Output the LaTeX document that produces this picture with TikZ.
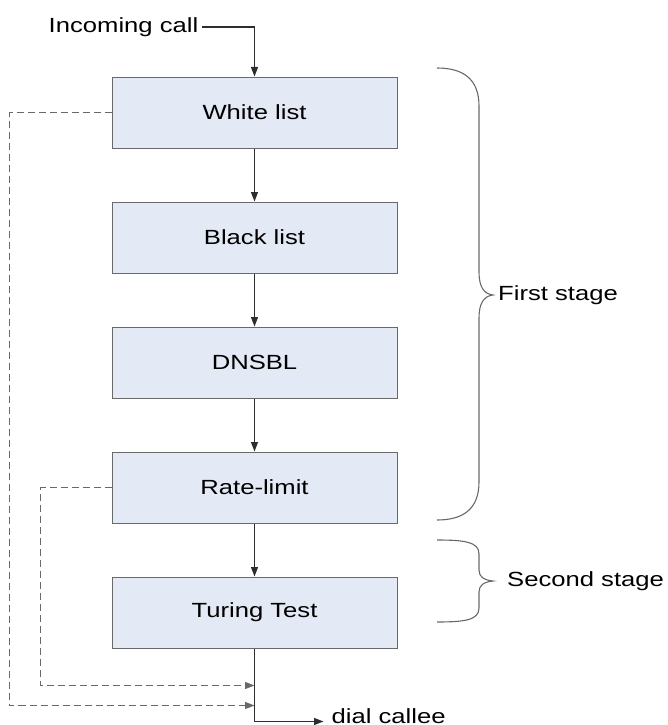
\documentclass[tikz,border=0pt]{standalone}
\usepackage{fontspec}
\setmainfont{Liberation Sans}[FakeStretch=1.25]
\usetikzlibrary{positioning}
\usetikzlibrary{calc}
\usetikzlibrary{arrows.meta}

\definecolor{boxfill}{RGB}{227,233,245}
\definecolor{boxline}{RGB}{105,105,105}
\definecolor{flowline}{RGB}{45,45,45}

\begin{document}
\begin{tikzpicture}
	[x=1pt, y=-1pt,
	every node/.append style={font=\fontsize{20.5}{24}\selectfont},
	node distance=53pt,
	filter/.style={draw=boxline, fill=boxfill, line width=1pt, minimum width=285pt, minimum height=71pt},
	flow/.style={->, draw=flowline, line width=1.2pt},
	skip/.style={->, dash pattern=on 7pt off 4pt, draw=boxline, line width=1.1pt},
	brace/.style={draw=boxline, line width=1.1pt},
	>={Triangle[length=9.5pt,width=7pt]}]

	\useasboundingbox (0,0) rectangle (668,725);

	% filter chain
	\node [filter] (white) at (254.5,112.5) {White list};
	\node [filter, below=of white] (black) {Black list};
	\node [filter, below=of black] (dnsbl) {DNSBL};
	\node [filter, below=of dnsbl] (rate) {Rate-limit};
	\node [filter, below=of rate] (turing) {Turing Test};

	\node (incoming) at (123.5,27) {Incoming call};

	% join points under the last box
	\coordinate (joinA) at ($(turing.south)+(0,37)$);
	\coordinate (joinB) at ($(turing.south)+(0,57)$);
	\coordinate (exit)  at ($(turing.south)+(0,73)$);
	\node [anchor=base west, inner sep=0pt] (callee) at ($(exit)+(77,2)$) {dial callee};
	\coordinate (calleeIn) at ($(exit -| callee.west)+(-8,0)$);

	% straight arrows
	\draw [flow] (incoming.east) -| (white.north);
	\draw [flow] (white) -- (black);
	\draw [flow] (black) -- (dnsbl);
	\draw [flow] (dnsbl) -- (rate);
	\draw [flow] (rate) -- (turing);
	\draw [flow] (turing) -- (exit) -- (calleeIn);

	% dashed bypasses
	\draw [skip] (white.west) -- ++(-102,0) |- (joinB);
	\draw [skip] (rate.west) -- ++(-71,0) |- (joinA);

	% braces
	\draw [brace] (437,68) .. controls (462,68) and (479,78) .. (479,106) -- (479,272)
		.. controls (479,287) and (484,294) .. (493,295)
		.. controls (484,296) and (479,303) .. (479,318) -- (479,482)
		.. controls (479,510) and (462,520) .. (437,520);
	\draw [brace] (437,540) .. controls (465,540) and (479,542) .. (479,554) -- (479,570)
		.. controls (479,577) and (484,580) .. (493,581)
		.. controls (484,582) and (479,585) .. (479,592) -- (479,608)
		.. controls (479,620) and (465,622) .. (437,622);

	\node [anchor=west, inner sep=2pt] (first) at (496,295) {First stage};
	\node [anchor=west, inner sep=2pt] (second) at (505,581) {Second stage};
\end{tikzpicture}
\end{document}
